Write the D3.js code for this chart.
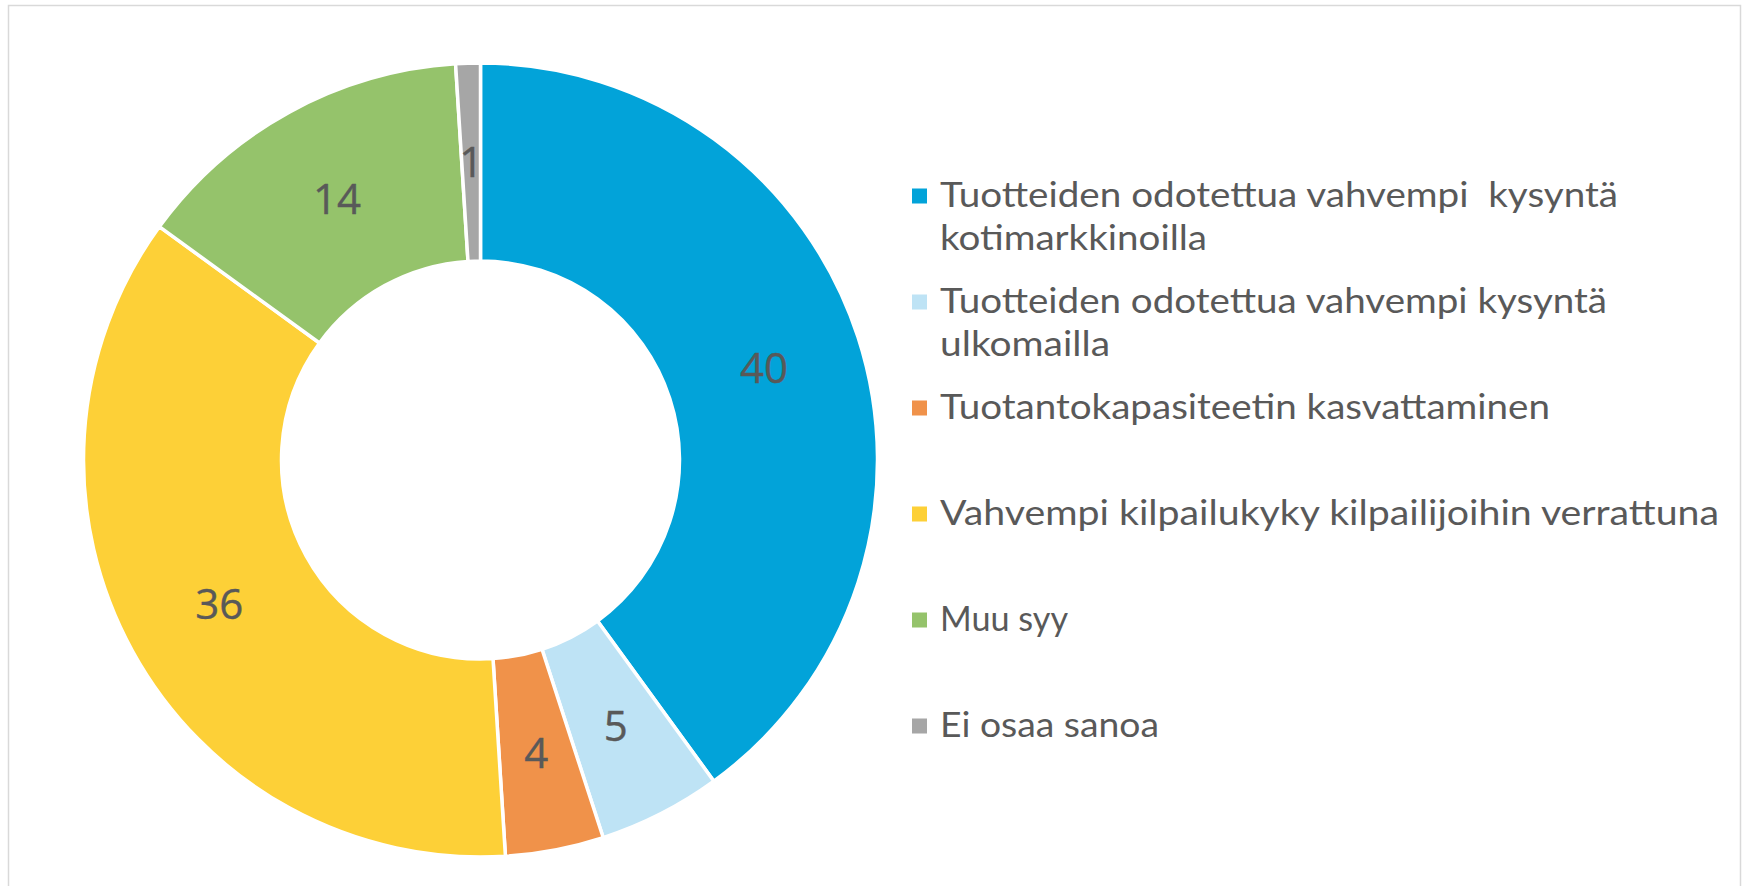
<!DOCTYPE html>
<html>
<head>
<meta charset="utf-8">
<script src="https://cdn.jsdelivr.net/npm/d3@7"></script>
<style>
  html, body { margin: 0; padding: 0; background: #ffffff; }
  svg { display: block; }
  text { white-space: pre; }
</style>
</head>
<body>
<svg id="chart" width="1744" height="886"></svg>
<script>
// ---- data ----
const categories = [
  "Tuotteiden odotettua vahvempi  kysyntä\nkotimarkkinoilla",
  "Tuotteiden odotettua vahvempi kysyntä\nulkomailla",
  "Tuotantokapasiteetin kasvattaminen",
  "Vahvempi kilpailukyky kilpailijoihin verrattuna",
  "Muu syy",
  "Ei osaa sanoa"
];
const values = [40, 5, 4, 36, 14, 1];
const colors = ["#02A3D9", "#BEE3F5", "#F0924A", "#FDD037", "#95C36B", "#A6A6A6"];

const legendLineWidths = [[678, 267], [667, 170], [610], [779], [128], [219]];
const cx = 480.5, cy = 460;
const outerR = 397, innerR = 199;
const textColor = "#595959";

const svg = d3.select("#chart");

// chart border
svg.append("rect")
  .attr("x", 8.5).attr("y", 5.5)
  .attr("width", 1732).attr("height", 920)
  .attr("fill", "#ffffff")
  .attr("stroke", "#d9d9d9").attr("stroke-width", 1.5);

const data = categories.map((c, i) => ({ name: c, value: values[i], color: colors[i], widths: legendLineWidths[i] }));

const pie = d3.pie().sort(null).value(d => d.value);
const arc = d3.arc().innerRadius(innerR).outerRadius(outerR);

const g = svg.append("g").attr("transform", `translate(${cx},${cy})`);
const arcs = pie(data);

g.selectAll("path.slice")
  .data(arcs)
  .join("path")
  .attr("class", "slice")
  .attr("d", arc)
  .attr("fill", d => d.data.color)
  .attr("stroke", "#ffffff")
  .attr("stroke-width", 3.5);

g.selectAll("text.lbl")
  .data(arcs)
  .join("text")
  .attr("class", "lbl")
  .attr("transform", d => { const c = arc.centroid(d); return `translate(${c[0]},${c[1]})`; })
  .attr("text-anchor", "middle")
  .attr("dy", "0.36em")
  .attr("font-family", "'Open Sans', sans-serif")
  .attr("font-size", 42)
  .attr("fill", textColor)
  .attr("stroke", textColor)
  .attr("stroke-width", 0.4)
  .text(d => d.value);

// ---- legend ----
const legendX = 912, textX = 940;
const firstBaseline = 207, itemStep = 106, lineStep = 43;
const fontSize = 35;
const legendScale = d3.scaleLinear().domain([0, 1]).range([firstBaseline, firstBaseline + itemStep]);

const items = svg.append("g").selectAll("g.item").data(data).join("g").attr("class", "item");

items.append("rect")
  .attr("x", legendX)
  .attr("y", (d, i) => legendScale(i) - 18.5)
  .attr("width", 15).attr("height", 15)
  .attr("fill", d => d.color);

items.each(function(d, i) {
  d.name.split("\n").forEach((ln, j) => {
    d3.select(this).append("text")
      .attr("x", textX)
      .attr("y", legendScale(i) + j * lineStep)
      .attr("font-family", "Lato, 'Open Sans', sans-serif")
      .attr("font-size", fontSize)
      .attr("fill", textColor)
      .attr("textLength", d.widths[j])
      .attr("lengthAdjust", "spacingAndGlyphs")
      .text(ln);
  });
});
</script>
</body>
</html>
